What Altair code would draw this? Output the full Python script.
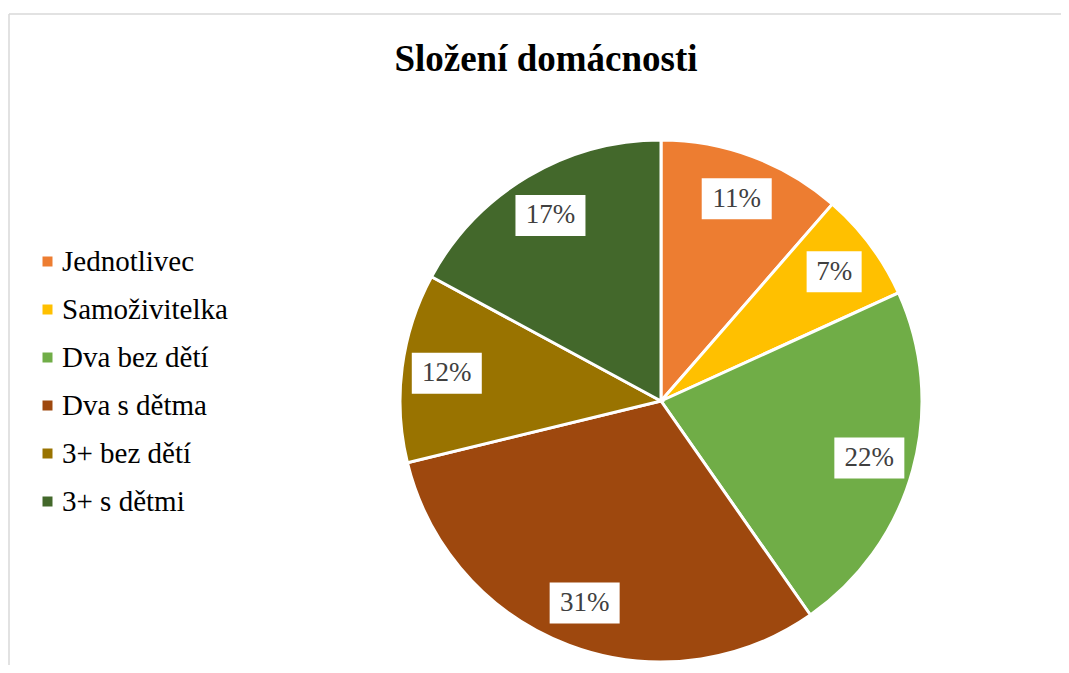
import altair as alt
import pandas as pd

categories = ["Jednotlivec", "Samoživitelka", "Dva bez dětí", "Dva s dětma", "3+  bez dětí", "3+ s dětmi"]
shares = [11.4, 6.8, 22.1, 30.9, 11.7, 17.1]
labels = ["11%", "7%", "22%", "31%", "12%", "17%"]
colors = ["#ED7D31", "#FFC000", "#70AD47", "#9E480E", "#997300", "#43682B"]
title_text = "Složení domácnosti"

df = pd.DataFrame({"cat": categories, "share": shares, "label": labels, "idx": list(range(len(categories)))})

W, H = 1052, 651
CX, CY = 652, 387
R = 261
LR = 216
SERIF = "Liberation Serif"

base = alt.Chart(df).encode(
    theta=alt.Theta("share:Q", stack=True),
    order=alt.Order("idx:Q"),
    x=alt.value(CX),
    y=alt.value(CY),
)

pie = base.mark_arc(outerRadius=R, stroke="white", strokeWidth=3).encode(
    color=alt.Color(
        "cat:N",
        scale=alt.Scale(domain=categories, range=colors),
        sort=categories,
        legend=alt.Legend(
            title=None,
            orient="none",
            legendX=24,
            legendY=233,
        ),
    )
)

boxes = alt.Chart(df).transform_joinaggregate(
    total="sum(share)"
).transform_window(
    cum="sum(share)", sort=[alt.SortField("idx")], frame=[None, 0]
).transform_calculate(
    ang="(datum.cum - datum.share / 2) / datum.total * 2 * PI",
    bx=f"{CX} + {LR} * sin(datum.ang)",
    by=f"{CY} - {LR} * cos(datum.ang)",
    box="length(datum.label) > 2 ? 'M-1,-0.586L1,-0.586L1,0.586L-1,0.586Z' : 'M-0.786,-0.586L0.786,-0.586L0.786,0.586L-0.786,0.586Z'",
).mark_point(filled=True, color="white", opacity=1, size=4900, strokeWidth=0).encode(
    x=alt.X("bx:Q", scale=None),
    y=alt.Y("by:Q", scale=None),
    shape=alt.Shape("box:N", scale=None),
)

texts = base.mark_text(radius=LR, font=SERIF, fontSize=27, color="#404040", baseline="middle", align="center").encode(
    text="label:N"
)

frame_df = pd.DataFrame({"a": [0]})
top_line = alt.Chart(frame_df).mark_rule(color="#D9D9D9", strokeWidth=1.5).encode(
    x=alt.value(0), x2=alt.value(W), y=alt.value(0)
)
left_line = alt.Chart(frame_df).mark_rule(color="#D9D9D9", strokeWidth=1.5).encode(
    x=alt.value(0), y=alt.value(0), y2=alt.value(H)
)
title = alt.Chart(frame_df).mark_text(font=SERIF, fontSize=37, fontWeight="bold", color="black", baseline="alphabetic", align="center").encode(
    x=alt.value(537), y=alt.value(57), text=alt.value(title_text)
)

chart = alt.layer(top_line, left_line, pie, boxes, texts, title).properties(
    width=W, height=H, padding={"left": 1, "top": 6, "right": 0, "bottom": 0},
    autosize=alt.AutoSizeParams(type="none"),
).configure(font=SERIF).configure_view(stroke=None).configure_legend(
    symbolType="square",
    symbolSize=100,
    symbolStrokeWidth=0,
    labelFont=SERIF,
    labelFontSize=29,
    labelColor="black",
    labelOffset=0,
    labelLimit=400,
    rowPadding=18,
    padding=0,
)

chart.save("out.html", embed_options={"renderer": "svg", "actions": False})
